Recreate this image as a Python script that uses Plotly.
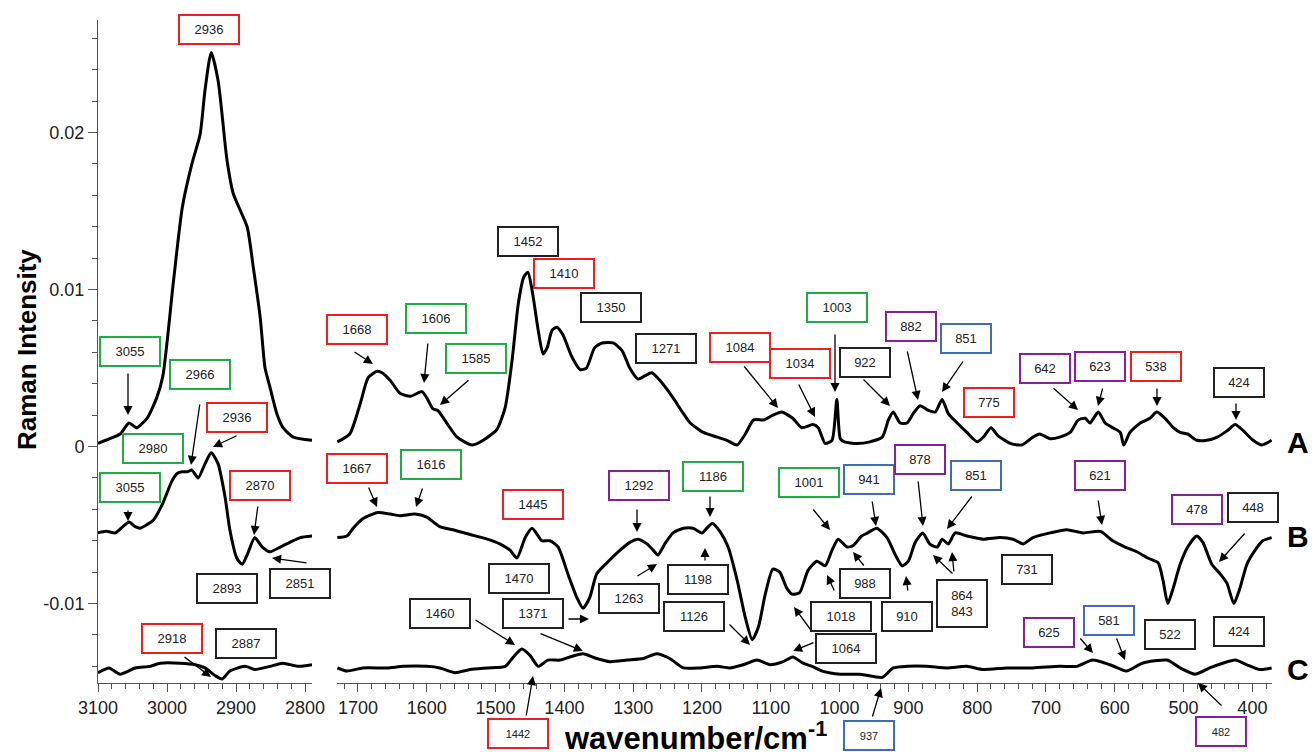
"""
Raman spectra A, B and C with assigned peak labels on a split wavenumber axis.
"""
import plotly.graph_objects as go

# ---- C-H stretching region (3100-2790 cm-1) ----
wn_a_high = [3100, 3083, 3068, 3055, 3044, 3029, 3015, 3006, 2991, 2978, 2964, 2952,
             2945, 2936, 2926, 2913, 2904, 2884, 2875, 2865, 2858, 2851, 2841, 2832,
             2817, 2790]
a_high = [0.0002, 0.0005, 0.0008, 0.0015, 0.0012, 0.0018, 0.0031, 0.0045, 0.0104,
          0.0152, 0.0180, 0.0199, 0.0227, 0.0251, 0.0233, 0.0182, 0.0161, 0.0140,
          0.0114, 0.0082, 0.0050, 0.0038, 0.0021, 0.0012, 0.0006, 0.0004]

wn_b_high = [3100, 3088, 3075, 3064, 3055, 3046, 3039, 3030, 3020, 3006, 2993, 2985,
             2978, 2970, 2964, 2955, 2945, 2936, 2926, 2916, 2909, 2899, 2891, 2883,
             2873, 2862, 2851, 2836, 2822, 2807, 2790]
b_high = [-0.0055, -0.0054, -0.0055, -0.0051, -0.0048, -0.0051, -0.0052, -0.0050,
          -0.0047, -0.0036, -0.0022, -0.0017, -0.0016, -0.0016, -0.0015, -0.0020,
          -0.0011, -0.0004, -0.0011, -0.0032, -0.0053, -0.0071, -0.0075, -0.0068,
          -0.0058, -0.0064, -0.0067, -0.0064, -0.0061, -0.0058, -0.0057]

wn_c_high = [3100, 3084, 3068, 3046, 3025, 3010, 2981, 2959, 2945, 2930, 2920, 2909,
             2887, 2873, 2851, 2832, 2810, 2790]
c_high = [-0.0144, -0.0141, -0.0145, -0.0141, -0.0140, -0.0138, -0.0138, -0.0139,
          -0.0141, -0.0146, -0.0148, -0.0143, -0.0140, -0.0142, -0.0140, -0.0138,
          -0.0140, -0.0139]

# ---- fingerprint region (1730-370 cm-1) ----
wn_a_low = [1730, 1712, 1697, 1685, 1672, 1665, 1653, 1639, 1624, 1607, 1600, 1591,
            1584, 1571, 1556, 1534, 1518, 1498, 1486, 1476, 1467, 1459, 1453, 1446,
            1438, 1431, 1425, 1418, 1411, 1402, 1389, 1377, 1368, 1356, 1345, 1329,
            1316, 1305, 1293, 1283, 1273, 1261, 1242, 1227, 1217, 1198, 1178, 1164,
            1149, 1137, 1125, 1110, 1097, 1084, 1068, 1055, 1039, 1031, 1021, 1011,
            1004, 999, 993, 975, 956, 938, 929, 922, 912, 902, 893, 883, 871, 861,
            851, 842, 829, 815, 800, 791, 780, 770, 752, 735, 719, 709, 694, 680,
            665, 653, 643, 636, 624, 614, 603, 592, 587, 578, 563, 549, 539, 527,
            515, 505, 494, 481, 466, 451, 437, 425, 413, 399, 386, 372]
a_low = [0.0003, 0.0008, 0.0027, 0.0044, 0.0048, 0.0047, 0.0042, 0.0034, 0.0032,
         0.0035, 0.0031, 0.0024, 0.0023, 0.0015, 0.0006, 0.0001, 0.0004, 0.0011,
         0.0025, 0.0055, 0.0091, 0.0108, 0.0111, 0.0097, 0.0074, 0.0059, 0.0063,
         0.0074, 0.0076, 0.0071, 0.0057, 0.0049, 0.0050, 0.0063, 0.0066, 0.0066,
         0.0061, 0.0050, 0.0043, 0.0045, 0.0047, 0.0042, 0.0031, 0.0021, 0.0015,
         0.0009, 0.0006, 0.0004, 0.0001, 0.0008, 0.0017, 0.0017, 0.0020, 0.0022,
         0.0018, 0.0012, 0.0014, 0.0012, 0.0002, 0.0004, 0.0030, 0.0005, 0.0003,
         0.0002, 0.0003, 0.0006, 0.0017, 0.0022, 0.0015, 0.0015, 0.0021, 0.0026,
         0.0023, 0.0022, 0.0030, 0.0021, 0.0015, 0.0009, 0.0003, 0.0006, 0.0012,
         0.0007, 0.0002, 0.0001, 0.0006, 0.0008, 0.0005, 0.0006, 0.0009, 0.0017,
         0.0018, 0.0015, 0.0022, 0.0015, 0.0012, 0.0009, 0.0001, 0.0009, 0.0015,
         0.0018, 0.0022, 0.0018, 0.0012, 0.0009, 0.0008, 0.0004, 0.0004, 0.0006,
         0.0010, 0.0014, 0.0010, 0.0004, 0.0001, 0.0004]

wn_b_low = [1730, 1716, 1707, 1693, 1671, 1653, 1639, 1617, 1600, 1581, 1562, 1537,
            1512, 1494, 1479, 1469, 1457, 1447, 1438, 1433, 1421, 1409, 1395, 1382,
            1373, 1363, 1353, 1338, 1319, 1305, 1293, 1280, 1271, 1264, 1254, 1242,
            1227, 1213, 1200, 1193, 1185, 1174, 1162, 1149, 1137, 1127, 1118, 1108,
            1097, 1087, 1077, 1069, 1058, 1046, 1033, 1021, 1011, 1002, 989, 980,
            968, 959, 946, 931, 919, 909, 900, 890, 879, 869, 858, 851, 842, 832,
            815, 791, 767, 748, 733, 719, 694, 670, 646, 621, 603, 585, 568, 552,
            537, 530, 523, 515, 505, 494, 481, 472, 459, 447, 437, 427, 418, 408,
            396, 385, 372]
b_low = [-0.0058, -0.0057, -0.0052, -0.0046, -0.0042, -0.0043, -0.0044, -0.0043,
         -0.0045, -0.0051, -0.0053, -0.0056, -0.0059, -0.0062, -0.0066, -0.0071,
         -0.0058, -0.0052, -0.0057, -0.0060, -0.0060, -0.0064, -0.0081, -0.0096,
         -0.0103, -0.0096, -0.0081, -0.0074, -0.0066, -0.0061, -0.0059, -0.0062,
         -0.0066, -0.0069, -0.0062, -0.0055, -0.0052, -0.0052, -0.0055, -0.0052,
         -0.0049, -0.0054, -0.0064, -0.0085, -0.0109, -0.0123, -0.0115, -0.0094,
         -0.0078, -0.0080, -0.0090, -0.0094, -0.0093, -0.0079, -0.0073, -0.0076,
         -0.0066, -0.0059, -0.0064, -0.0063, -0.0057, -0.0055, -0.0052, -0.0058,
         -0.0069, -0.0076, -0.0073, -0.0061, -0.0055, -0.0062, -0.0064, -0.0059,
         -0.0062, -0.0055, -0.0057, -0.0059, -0.0058, -0.0059, -0.0062, -0.0058,
         -0.0055, -0.0053, -0.0055, -0.0054, -0.0060, -0.0064, -0.0067, -0.0071,
         -0.0074, -0.0085, -0.0100, -0.0090, -0.0075, -0.0064, -0.0057, -0.0061,
         -0.0075, -0.0081, -0.0087, -0.0100, -0.0090, -0.0075, -0.0066, -0.0060,
         -0.0058]

wn_c_low = [1730, 1716, 1693, 1658, 1634, 1600, 1581, 1559, 1537, 1512, 1486, 1474,
            1462, 1450, 1438, 1424, 1406, 1392, 1373, 1353, 1334, 1309, 1285, 1266,
            1247, 1227, 1203, 1178, 1159, 1140, 1120, 1101, 1082, 1068, 1053, 1040,
            1025, 999, 970, 938, 922, 902, 873, 844, 815, 791, 757, 719, 680, 655,
            632, 607, 583, 560, 524, 505, 483, 462, 443, 425, 408, 390, 372]
c_low = [-0.0141, -0.0143, -0.0141, -0.0141, -0.0140, -0.0140, -0.0141, -0.0144,
         -0.0142, -0.0141, -0.0140, -0.0134, -0.0129, -0.0133, -0.0140, -0.0136,
         -0.0136, -0.0134, -0.0132, -0.0135, -0.0137, -0.0136, -0.0135, -0.0132,
         -0.0135, -0.0141, -0.0141, -0.0140, -0.0141, -0.0139, -0.0136, -0.0139,
         -0.0137, -0.0134, -0.0138, -0.0140, -0.0143, -0.0145, -0.0145, -0.0147,
         -0.0141, -0.0140, -0.0140, -0.0141, -0.0140, -0.0142, -0.0141, -0.0141,
         -0.0140, -0.0140, -0.0136, -0.0139, -0.0143, -0.0138, -0.0136, -0.0141,
         -0.0145, -0.0141, -0.0138, -0.0136, -0.0139, -0.0142, -0.0141]

W, H = 1316, 752
FONT = "Arial, Liberation Sans, sans-serif"
RED, GREEN, BLACK, PURPLE, BLUE = "#f21d1d", "#1fae45", "#222222", "#8a1f9a", "#3f6fb0"

# peak label boxes: text, border colour, centre (px)
labels = [
    ("2936", RED, 208.5, 29.5), ("3055", GREEN, 130, 351), ("2966", GREEN, 199.5, 374),
    ("2980", GREEN, 153, 448), ("2936", RED, 236.5, 417), ("3055", GREEN, 130, 487),
    ("2870", RED, 260, 485), ("2893", BLACK, 227, 588), ("2851", BLACK, 300, 583),
    ("2918", RED, 172, 638), ("2887", BLACK, 245.5, 643),
    ("1668", RED, 356.5, 329), ("1606", GREEN, 435.5, 318.5), ("1585", GREEN, 476.5, 358),
    ("1452", BLACK, 527.5, 242), ("1410", RED, 564, 273.5), ("1350", BLACK, 611, 307),
    ("1271", BLACK, 666, 348), ("1084", RED, 739.5, 347.5), ("1034", RED, 800, 363),
    ("1003", GREEN, 837, 307), ("922", BLACK, 864.5, 362), ("882", PURPLE, 911, 326.5),
    ("851", BLUE, 966, 338), ("775", RED, 989, 402.5), ("642", PURPLE, 1045, 368.5),
    ("623", PURPLE, 1100, 366.5), ("538", RED, 1156, 366.5), ("424", BLACK, 1238.5, 382.5),
    ("1667", RED, 356.5, 468), ("1616", GREEN, 430.5, 464.5), ("1445", RED, 532.5, 504.5),
    ("1292", PURPLE, 638.5, 485.5), ("1186", GREEN, 712.5, 476.5),
    ("1001", GREEN, 808.5, 482.5), ("941", BLUE, 869, 479), ("878", PURPLE, 920, 459.5),
    ("851", BLUE, 975.5, 475), ("621", PURPLE, 1100, 475), ("478", PURPLE, 1197, 509.5),
    ("448", BLACK, 1252.5, 507),
    ("1470", BLACK, 518.5, 578.5), ("1263", BLACK, 628.5, 598.5), ("1198", BLACK, 698, 579.5),
    ("1126", BLACK, 693.5, 616), ("1460", BLACK, 439.5, 613), ("1371", BLACK, 532.5, 613),
    ("1064", BLACK, 846, 648), ("1018", BLACK, 841.5, 616.5), ("988", BLACK, 864.5, 583),
    ("910", BLACK, 906.5, 616.5), ("731", BLACK, 1026.5, 569.5), ("522", BLACK, 1170, 634.5),
    ("424", BLACK, 1238.5, 631.5), ("625", PURPLE, 1049, 632), ("581", BLUE, 1109, 620.5),
]
small_labels = [("1442", RED, 518, 733), ("937", BLUE, 869, 735), ("482", PURPLE, 1220.5, 731)]

# arrows: tail (px) -> head (px)
arrows = [
    (128, 372, 128, 415), (200, 403, 191, 465), (238, 435, 213, 447), (128, 509, 128, 521),
    (258, 505, 254, 535), (308, 563, 272, 558), (183, 656, 211, 677),
    (353, 351, 373, 364), (428, 342, 424, 383), (470, 379, 440, 405), (743, 365, 778, 408),
    (798, 383, 815, 417), (835, 333, 835, 392), (862, 378, 890, 406), (907, 350, 918, 400),
    (964, 360, 942, 392), (1052, 387, 1078, 410), (1103, 387, 1098, 406),
    (1157, 387, 1157, 406), (1236, 402, 1236, 420),
    (368, 486, 377, 507), (423, 487, 416, 507), (637, 508, 637, 532), (710, 495, 710, 517),
    (812, 508, 830, 530), (872, 500, 876, 526), (918, 480, 923, 526), (973, 495, 947, 529),
    (1098, 499, 1102, 525), (1246, 532, 1219, 562),
    (636, 577, 657, 564), (705, 562, 705, 548), (728, 623, 750, 645), (474, 619, 515, 645),
    (567, 619, 589, 619), (539, 633, 583, 651), (526, 717, 533, 676), (815, 642, 793, 651),
    (813, 633, 794, 607), (835, 592, 827, 575), (865, 567, 853, 552), (908, 592, 906, 576),
    (954, 575, 933, 555), (954, 573, 952, 552), (1079, 637, 1093, 653),
    (1116, 637, 1125, 660), (872, 718, 881, 688), (1223, 707, 1198, 683),
]


def label_box(text, color, cx, cy, size=13, width=None, height=25):
    if width is None:
        width = 56 if len(text) > 3 else 46
    return dict(xref="paper", yref="paper", x=cx / W, y=1 - cy / H, text=text,
                showarrow=False, xanchor="center", yanchor="middle",
                font=dict(family=FONT, size=size, color="#222"),
                bordercolor=color, borderwidth=2, borderpad=1, bgcolor="white",
                width=width, height=height)


def arrow(x0, y0, x1, y1):
    return dict(xref="paper", yref="paper", x=x1 / W, y=1 - y1 / H, text="",
                showarrow=True, axref="pixel", ayref="pixel", ax=x0 - x1, ay=y0 - y1,
                arrowhead=2, arrowsize=1.4, arrowwidth=1.3, arrowcolor="black", standoff=0)


def free_text(text, cx, cy, size, angle=0):
    return dict(xref="paper", yref="paper", x=cx / W, y=1 - cy / H, text=text,
                showarrow=False, textangle=angle, xanchor="center", yanchor="middle",
                font=dict(family=FONT, size=size, color="black"))


fig = go.Figure()
line = dict(color="black", width=3, shape="spline", smoothing=0.6)
for wn, y in [(wn_a_high, a_high), (wn_b_high, b_high), (wn_c_high, c_high)]:
    fig.add_trace(go.Scatter(x=wn, y=y, mode="lines", line=line, xaxis="x", yaxis="y"))
for wn, y in [(wn_a_low, a_low), (wn_b_low, b_low), (wn_c_low, c_low)]:
    fig.add_trace(go.Scatter(x=wn, y=y, mode="lines", line=line, xaxis="x2", yaxis="y"))

annotations = [arrow(*a) for a in arrows]
annotations += [label_box(*l) for l in labels]
annotations += [label_box(*l, size=11) for l in small_labels]
annotations.append(label_box("864<br>843", BLACK, 961.5, 603.5, width=46, height=43))

# spectrum names and axis titles
for name, cy in [("A", 442), ("B", 536), ("C", 669)]:
    annotations.append(free_text("<b>%s</b>" % name, 1298, cy, 30))
annotations.append(free_text("<b>wavenumber/cm<sup>-1</sup></b>", 695, 736, 31))
annotations.append(free_text("<b>Raman Intensity</b>", 27, 350, 26, angle=-90))

xaxis_common = dict(showline=True, linecolor="#555", linewidth=1, ticks="outside",
                    ticklen=8, tickcolor="#555", tick0=0, dtick=100, showgrid=False,
                    zeroline=False, automargin=False,
                    tickfont=dict(family=FONT, size=18, color="#222"),
                    minor=dict(ticks="outside", ticklen=5, tickcolor="#555", dtick=20))

fig.update_layout(
    width=W, height=H, autosize=False,
    margin=dict(l=0, r=0, t=0, b=0),
    paper_bgcolor="white", plot_bgcolor="white",
    showlegend=False,
    xaxis=dict(domain=[98 / W, 312 / W], range=[3100, 2790], anchor="y", **xaxis_common),
    xaxis2=dict(domain=[337 / W, 1272 / W], range=[1730.5, 371.5], anchor="y",
                **xaxis_common),
    yaxis=dict(domain=[(H - 683) / H, (H - 20) / H], range=[-0.01506, 0.02717],
               anchor="x", showline=True, linecolor="#555", linewidth=1, ticks="outside",
               ticklen=9, tickcolor="#555", showgrid=False, zeroline=False,
               automargin=False,
               tickvals=[-0.01, 0, 0.01, 0.02], ticktext=["-0.01", "0", "0.01", "0.02"],
               tickfont=dict(family=FONT, size=18, color="#222"),
               minor=dict(tickmode="linear", tick0=0, dtick=0.002, ticks="outside",
                          ticklen=5, tickcolor="#555")),
    annotations=annotations,
)

# the page's default body margin would push the fixed-size figure off by 8px
fig.write_html("out.html", config={"displayModeBar": False},
               post_script="document.body.style.margin = '0';")
